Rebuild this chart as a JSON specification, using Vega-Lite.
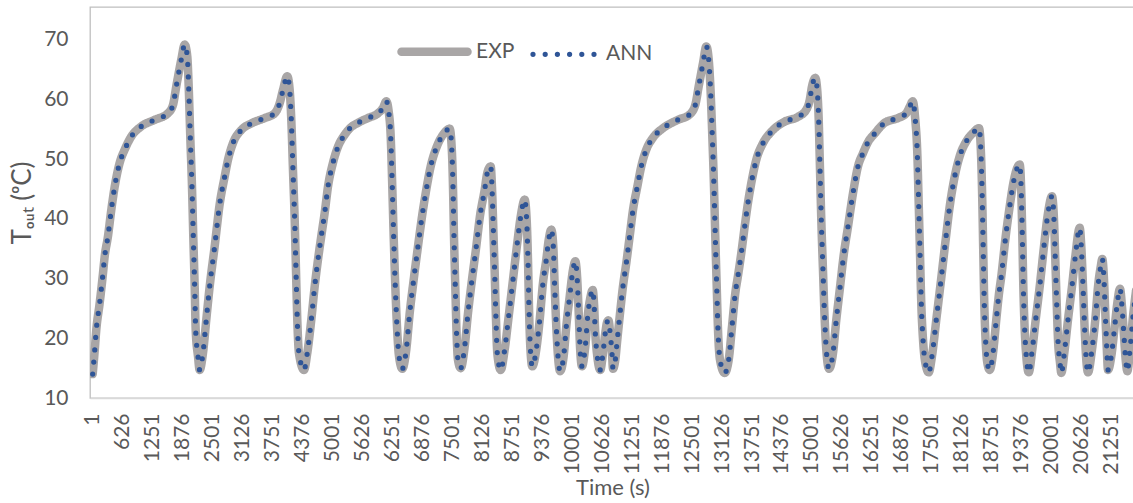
{
"$schema": "https://vega.github.io/schema/vega-lite/v6.json",
"width": 1045, "height": 391,
"autosize": "none",
"padding": {"left": 90, "top": 7, "right": 0, "bottom": 105},
"background": "white",
"config": {"view": {"stroke": "#BFBFBF", "strokeWidth": 1.3}, "font": "Lato"},
"datasets": {"pts": [
{"t":1,"EXP":14.0,"ANN":14.0},{"t":39,"EXP":17.5,"ANN":17.5},{"t":76,"EXP":21.4,"ANN":21.4},{"t":147,"EXP":25.9,"ANN":25.9},{"t":216,"EXP":30.9,"ANN":30.9},{"t":251,"EXP":33.7,"ANN":33.7},{"t":320,"EXP":37.1,"ANN":37.1},{"t":389,"EXP":41.5,"ANN":41.5},{"t":460,"EXP":45.4,"ANN":45.4},{"t":564,"EXP":49.4,"ANN":49.4},{"t":668,"EXP":51.6,"ANN":51.6},{"t":806,"EXP":53.8,"ANN":53.8},{"t":1015,"EXP":55.5,"ANN":55.5},{"t":1294,"EXP":56.6,"ANN":56.6},{"t":1571,"EXP":57.7,"ANN":57.7},{"t":1676,"EXP":59.1,"ANN":59.1},{"t":1744,"EXP":62.2,"ANN":62.2},{"t":1849,"EXP":66.7,"ANN":66.7},{"t":1920,"EXP":69.2,"ANN":69.2},{"t":1974,"EXP":67.2,"ANN":67.2},{"t":2003,"EXP":62.2,"ANN":62.2},{"t":2036,"EXP":53.8,"ANN":53.8},{"t":2072,"EXP":45.4,"ANN":45.4},{"t":2099,"EXP":37.1,"ANN":37.1},{"t":2128,"EXP":28.7,"ANN":28.7},{"t":2149,"EXP":21.4,"ANN":21.4},{"t":2197,"EXP":17.0,"ANN":17.0},{"t":2232,"EXP":14.7,"ANN":14.7},{"t":2301,"EXP":17.5,"ANN":17.5},{"t":2370,"EXP":23.1,"ANN":23.1},{"t":2441,"EXP":28.7,"ANN":28.7},{"t":2545,"EXP":35.4,"ANN":35.4},{"t":2650,"EXP":42.5,"ANN":42.5},{"t":2754,"EXP":47.1,"ANN":47.1},{"t":2823,"EXP":49.9,"ANN":49.9},{"t":2927,"EXP":52.7,"ANN":52.7},{"t":3100,"EXP":54.9,"ANN":54.9},{"t":3309,"EXP":56.0,"ANN":56.0},{"t":3588,"EXP":56.9,"ANN":56.9},{"t":3797,"EXP":57.7,"ANN":57.7},{"t":3901,"EXP":59.4,"ANN":59.4},{"t":3970,"EXP":61.6,"ANN":61.6},{"t":4059,"EXP":63.9,"ANN":63.9},{"t":4109,"EXP":61.6,"ANN":61.6},{"t":4143,"EXP":56.6,"ANN":56.6},{"t":4178,"EXP":48.2,"ANN":48.2},{"t":4214,"EXP":39.8,"ANN":39.8},{"t":4241,"EXP":31.4,"ANN":31.4},{"t":4268,"EXP":23.1,"ANN":23.1},{"t":4303,"EXP":17.5,"ANN":17.5},{"t":4408,"EXP":14.7,"ANN":14.7},{"t":4476,"EXP":17.5,"ANN":17.5},{"t":4560,"EXP":23.1,"ANN":23.1},{"t":4631,"EXP":28.7,"ANN":28.7},{"t":4700,"EXP":33.2,"ANN":33.2},{"t":4768,"EXP":37.1,"ANN":37.1},{"t":4839,"EXP":41.0,"ANN":41.0},{"t":4908,"EXP":45.4,"ANN":45.4},{"t":5012,"EXP":49.4,"ANN":49.4},{"t":5117,"EXP":52.1,"ANN":52.1},{"t":5256,"EXP":54.1,"ANN":54.1},{"t":5367,"EXP":55.2,"ANN":55.2},{"t":5534,"EXP":56.1,"ANN":56.1},{"t":5742,"EXP":56.9,"ANN":56.9},{"t":5951,"EXP":57.7,"ANN":57.7},{"t":6055,"EXP":58.6,"ANN":58.6},{"t":6124,"EXP":59.7,"ANN":59.7},{"t":6174,"EXP":58.0,"ANN":58.0},{"t":6216,"EXP":53.8,"ANN":53.8},{"t":6249,"EXP":45.4,"ANN":45.4},{"t":6278,"EXP":37.1,"ANN":37.1},{"t":6312,"EXP":28.7,"ANN":28.7},{"t":6347,"EXP":22.0,"ANN":22.0},{"t":6389,"EXP":17.0,"ANN":17.0},{"t":6458,"EXP":14.9,"ANN":14.9},{"t":6541,"EXP":18.1,"ANN":18.1},{"t":6612,"EXP":24.2,"ANN":24.2},{"t":6695,"EXP":29.8,"ANN":29.8},{"t":6785,"EXP":35.4,"ANN":35.4},{"t":6869,"EXP":40.4,"ANN":40.4},{"t":6958,"EXP":44.9,"ANN":44.9},{"t":7050,"EXP":48.8,"ANN":48.8},{"t":7167,"EXP":51.9,"ANN":51.9},{"t":7306,"EXP":54.1,"ANN":54.1},{"t":7446,"EXP":55.1,"ANN":55.1},{"t":7494,"EXP":51.0,"ANN":51.0},{"t":7515,"EXP":45.4,"ANN":45.4},{"t":7536,"EXP":37.1,"ANN":37.1},{"t":7563,"EXP":28.7,"ANN":28.7},{"t":7592,"EXP":20.3,"ANN":20.3},{"t":7619,"EXP":16.4,"ANN":16.4},{"t":7676,"EXP":15.0,"ANN":15.0},{"t":7759,"EXP":18.6,"ANN":18.6},{"t":7828,"EXP":24.2,"ANN":24.2},{"t":7911,"EXP":29.8,"ANN":29.8},{"t":8001,"EXP":35.4,"ANN":35.4},{"t":8078,"EXP":40.5,"ANN":40.5},{"t":8176,"EXP":44.9,"ANN":44.9},{"t":8230,"EXP":47.7,"ANN":47.7},{"t":8301,"EXP":48.8,"ANN":48.8},{"t":8328,"EXP":45.4,"ANN":45.4},{"t":8355,"EXP":38.7,"ANN":38.7},{"t":8385,"EXP":30.9,"ANN":30.9},{"t":8412,"EXP":23.1,"ANN":23.1},{"t":8439,"EXP":17.5,"ANN":17.5},{"t":8510,"EXP":14.7,"ANN":14.7},{"t":8593,"EXP":18.1,"ANN":18.1},{"t":8677,"EXP":23.7,"ANN":23.7},{"t":8766,"EXP":29.8,"ANN":29.8},{"t":8856,"EXP":36.0,"ANN":36.0},{"t":8927,"EXP":40.4,"ANN":40.4},{"t":9010,"EXP":43.2,"ANN":43.2},{"t":9052,"EXP":39.8,"ANN":39.8},{"t":9079,"EXP":33.2,"ANN":33.2},{"t":9100,"EXP":25.3,"ANN":25.3},{"t":9127,"EXP":18.6,"ANN":18.6},{"t":9169,"EXP":15.3,"ANN":15.3},{"t":9252,"EXP":18.1,"ANN":18.1},{"t":9323,"EXP":23.1,"ANN":23.1},{"t":9392,"EXP":29.3,"ANN":29.3},{"t":9461,"EXP":33.2,"ANN":33.2},{"t":9511,"EXP":36.5,"ANN":36.5},{"t":9565,"EXP":38.2,"ANN":38.2},{"t":9607,"EXP":35.4,"ANN":35.4},{"t":9636,"EXP":28.7,"ANN":28.7},{"t":9669,"EXP":22.0,"ANN":22.0},{"t":9705,"EXP":17.0,"ANN":17.0},{"t":9747,"EXP":14.5,"ANN":14.5},{"t":9830,"EXP":17.5,"ANN":17.5},{"t":9878,"EXP":22.0,"ANN":22.0},{"t":9949,"EXP":27.0,"ANN":27.0},{"t":10018,"EXP":31.5,"ANN":31.5},{"t":10066,"EXP":32.9,"ANN":32.9},{"t":10107,"EXP":29.8,"ANN":29.8},{"t":10137,"EXP":24.2,"ANN":24.2},{"t":10164,"EXP":18.6,"ANN":18.6},{"t":10205,"EXP":15.3,"ANN":15.3},{"t":10274,"EXP":18.6,"ANN":18.6},{"t":10331,"EXP":24.2,"ANN":24.2},{"t":10372,"EXP":26.5,"ANN":26.5},{"t":10429,"EXP":28.1,"ANN":28.1},{"t":10456,"EXP":25.9,"ANN":25.9},{"t":10483,"EXP":20.9,"ANN":20.9},{"t":10524,"EXP":17.0,"ANN":17.0},{"t":10587,"EXP":14.7,"ANN":14.7},{"t":10643,"EXP":17.5,"ANN":17.5},{"t":10691,"EXP":20.9,"ANN":20.9},{"t":10733,"EXP":22.8,"ANN":22.8},{"t":10758,"EXP":23.0,"ANN":23.0},{"t":10796,"EXP":20.6,"ANN":20.6},{"t":10831,"EXP":17.5,"ANN":17.5},{"t":10852,"EXP":14.9,"ANN":14.9},{"t":10900,"EXP":16.4,"ANN":16.4},{"t":10942,"EXP":19.8,"ANN":19.8},{"t":10992,"EXP":23.7,"ANN":23.7},{"t":11060,"EXP":28.7,"ANN":28.7},{"t":11129,"EXP":32.6,"ANN":32.6},{"t":11200,"EXP":37.1,"ANN":37.1},{"t":11269,"EXP":41.5,"ANN":41.5},{"t":11359,"EXP":45.4,"ANN":45.4},{"t":11442,"EXP":48.8,"ANN":48.8},{"t":11546,"EXP":51.6,"ANN":51.6},{"t":11686,"EXP":53.6,"ANN":53.6},{"t":11895,"EXP":55.2,"ANN":55.2},{"t":12207,"EXP":56.6,"ANN":56.6},{"t":12451,"EXP":57.5,"ANN":57.5},{"t":12568,"EXP":59.1,"ANN":59.1},{"t":12639,"EXP":62.2,"ANN":62.2},{"t":12729,"EXP":66.1,"ANN":66.1},{"t":12798,"EXP":68.9,"ANN":68.9},{"t":12848,"EXP":66.7,"ANN":66.7},{"t":12889,"EXP":61.1,"ANN":61.1},{"t":12923,"EXP":53.8,"ANN":53.8},{"t":12958,"EXP":45.4,"ANN":45.4},{"t":12985,"EXP":37.1,"ANN":37.1},{"t":13015,"EXP":28.7,"ANN":28.7},{"t":13042,"EXP":21.4,"ANN":21.4},{"t":13083,"EXP":16.4,"ANN":16.4},{"t":13181,"EXP":14.2,"ANN":14.2},{"t":13265,"EXP":16.4,"ANN":16.4},{"t":13334,"EXP":22.0,"ANN":22.0},{"t":13403,"EXP":27.6,"ANN":27.6},{"t":13459,"EXP":30.5,"ANN":30.5},{"t":13528,"EXP":34.3,"ANN":34.3},{"t":13598,"EXP":38.7,"ANN":38.7},{"t":13667,"EXP":42.7,"ANN":42.7},{"t":13736,"EXP":46.0,"ANN":46.0},{"t":13840,"EXP":49.9,"ANN":49.9},{"t":13980,"EXP":52.7,"ANN":52.7},{"t":14153,"EXP":54.6,"ANN":54.6},{"t":14433,"EXP":56.3,"ANN":56.3},{"t":14710,"EXP":57.1,"ANN":57.1},{"t":14883,"EXP":58.3,"ANN":58.3},{"t":14954,"EXP":59.9,"ANN":59.9},{"t":15002,"EXP":62.2,"ANN":62.2},{"t":15071,"EXP":63.6,"ANN":63.6},{"t":15113,"EXP":61.4,"ANN":61.4},{"t":15142,"EXP":56.6,"ANN":56.6},{"t":15169,"EXP":48.2,"ANN":48.2},{"t":15196,"EXP":39.8,"ANN":39.8},{"t":15231,"EXP":31.4,"ANN":31.4},{"t":15267,"EXP":23.1,"ANN":23.1},{"t":15300,"EXP":18.1,"ANN":18.1},{"t":15357,"EXP":14.9,"ANN":14.9},{"t":15440,"EXP":17.5,"ANN":17.5},{"t":15509,"EXP":23.1,"ANN":23.1},{"t":15580,"EXP":28.1,"ANN":28.1},{"t":15669,"EXP":34.3,"ANN":34.3},{"t":15753,"EXP":38.7,"ANN":38.7},{"t":15857,"EXP":44.3,"ANN":44.3},{"t":15961,"EXP":48.8,"ANN":48.8},{"t":16065,"EXP":51.0,"ANN":51.0},{"t":16180,"EXP":53.0,"ANN":53.0},{"t":16310,"EXP":54.3,"ANN":54.3},{"t":16518,"EXP":56.1,"ANN":56.1},{"t":16795,"EXP":56.9,"ANN":56.9},{"t":16968,"EXP":57.7,"ANN":57.7},{"t":17040,"EXP":58.8,"ANN":58.8},{"t":17102,"EXP":59.7,"ANN":59.7},{"t":17156,"EXP":56.6,"ANN":56.6},{"t":17198,"EXP":51.0,"ANN":51.0},{"t":17227,"EXP":42.7,"ANN":42.7},{"t":17254,"EXP":34.3,"ANN":34.3},{"t":17281,"EXP":25.9,"ANN":25.9},{"t":17317,"EXP":19.8,"ANN":19.8},{"t":17365,"EXP":15.9,"ANN":15.9},{"t":17436,"EXP":14.3,"ANN":14.3},{"t":17504,"EXP":17.0,"ANN":17.0},{"t":17594,"EXP":23.1,"ANN":23.1},{"t":17686,"EXP":29.3,"ANN":29.3},{"t":17782,"EXP":36.0,"ANN":36.0},{"t":17874,"EXP":42.1,"ANN":42.1},{"t":17978,"EXP":47.1,"ANN":47.1},{"t":18082,"EXP":50.5,"ANN":50.5},{"t":18220,"EXP":53.0,"ANN":53.0},{"t":18359,"EXP":54.4,"ANN":54.4},{"t":18485,"EXP":55.2,"ANN":55.2},{"t":18533,"EXP":49.4,"ANN":49.4},{"t":18554,"EXP":42.7,"ANN":42.7},{"t":18574,"EXP":34.3,"ANN":34.3},{"t":18595,"EXP":25.9,"ANN":25.9},{"t":18625,"EXP":19.2,"ANN":19.2},{"t":18658,"EXP":15.9,"ANN":15.9},{"t":18708,"EXP":14.7,"ANN":14.7},{"t":18777,"EXP":17.5,"ANN":17.5},{"t":18845,"EXP":23.1,"ANN":23.1},{"t":18902,"EXP":27.5,"ANN":27.5},{"t":18950,"EXP":30.4,"ANN":30.4},{"t":19033,"EXP":36.5,"ANN":36.5},{"t":19125,"EXP":42.1,"ANN":42.1},{"t":19215,"EXP":46.6,"ANN":46.6},{"t":19334,"EXP":49.1,"ANN":49.1},{"t":19367,"EXP":44.3,"ANN":44.3},{"t":19388,"EXP":37.1,"ANN":37.1},{"t":19409,"EXP":28.7,"ANN":28.7},{"t":19438,"EXP":21.4,"ANN":21.4},{"t":19471,"EXP":17.0,"ANN":17.0},{"t":19521,"EXP":14.3,"ANN":14.3},{"t":19596,"EXP":18.1,"ANN":18.1},{"t":19667,"EXP":23.1,"ANN":23.1},{"t":19751,"EXP":28.7,"ANN":28.7},{"t":19840,"EXP":35.4,"ANN":35.4},{"t":19924,"EXP":41.0,"ANN":41.0},{"t":20007,"EXP":43.8,"ANN":43.8},{"t":20049,"EXP":39.8,"ANN":39.8},{"t":20076,"EXP":33.2,"ANN":33.2},{"t":20105,"EXP":25.9,"ANN":25.9},{"t":20132,"EXP":19.8,"ANN":19.8},{"t":20174,"EXP":15.9,"ANN":15.9},{"t":20201,"EXP":14.2,"ANN":14.2},{"t":20272,"EXP":18.1,"ANN":18.1},{"t":20341,"EXP":23.1,"ANN":23.1},{"t":20424,"EXP":28.7,"ANN":28.7},{"t":20493,"EXP":33.7,"ANN":33.7},{"t":20585,"EXP":38.5,"ANN":38.5},{"t":20618,"EXP":35.4,"ANN":35.4},{"t":20654,"EXP":28.7,"ANN":28.7},{"t":20689,"EXP":21.4,"ANN":21.4},{"t":20722,"EXP":16.4,"ANN":16.4},{"t":20758,"EXP":14.3,"ANN":14.3},{"t":20841,"EXP":18.1,"ANN":18.1},{"t":20910,"EXP":23.1,"ANN":23.1},{"t":20967,"EXP":28.7,"ANN":28.7},{"t":21023,"EXP":32.0,"ANN":32.0},{"t":21056,"EXP":33.3,"ANN":33.3},{"t":21092,"EXP":29.8,"ANN":29.8},{"t":21119,"EXP":24.2,"ANN":24.2},{"t":21148,"EXP":18.6,"ANN":18.6},{"t":21175,"EXP":14.7,"ANN":14.7},{"t":21244,"EXP":17.0,"ANN":17.0},{"t":21315,"EXP":22.0,"ANN":22.0},{"t":21369,"EXP":25.9,"ANN":25.9},{"t":21425,"EXP":28.3,"ANN":28.3},{"t":21467,"EXP":25.3,"ANN":25.3},{"t":21509,"EXP":20.3,"ANN":20.3},{"t":21544,"EXP":16.4,"ANN":16.4},{"t":21578,"EXP":14.5,"ANN":14.5},{"t":21634,"EXP":18.1,"ANN":18.1},{"t":21697,"EXP":23.7,"ANN":23.7},{"t":21760,"EXP":28.0,"ANN":28.0}
]},
"data": {"name": "pts"},
"transform": [
  {"fold": ["EXP", "ANN"], "as": ["series", "T"]}
],
"encoding": {
  "x": {"field": "t", "type": "quantitative",
        "scale": {"domain": [-55, 21738], "nice": false, "zero": false},
        "axis": {"values": [1,626,1251,1876,2501,3126,3751,4376,5001,5626,6251,6876,7501,8126,8751,9376,10001,10626,11251,11876,12501,13126,13751,14376,15001,15626,16251,16876,17501,18126,18751,19376,20001,20626,21251],
                 "format": "d", "labelAngle": -90, "labelFont": "Lato", "labelFontSize": 21, "labelColor": "#595959",
                 "ticks": false, "grid": false, "domainColor": "#D9D9D9", "domainWidth": 1.3,
                 "labelPadding": 15, "labelOverlap": false, "labelFlush": false,
                 "title": "Time (s)", "titleFont": "Lato", "titleFontSize": 22, "titleColor": "#595959",
                 "titleFontWeight": "normal", "titlePadding": 4}},
  "y": {"field": "T", "type": "quantitative",
        "scale": {"domain": [10, 75.5], "nice": false, "zero": false},
        "axis": {"values": [10,20,30,40,50,60,70], "labelFont": "Lato", "labelFontSize": 21, "labelColor": "#595959",
                 "ticks": false, "grid": false, "domain": false, "labelPadding": 22,
                 "title": "Tₒᵤₜ (ᵒC)", "titleFont": "Lato", "titleFontSize": 26, "titleColor": "#595959",
                 "titleFontWeight": "normal", "titlePadding": 8}},
  "color": {"field": "series", "type": "nominal",
            "scale": {"domain": ["EXP", "ANN"], "range": ["#A9A6A6", "#2F5597"]},
            "legend": {"title": null, "orient": "none", "legendX": 307, "legendY": 7, "direction": "horizontal",
                       "symbolType": "stroke", "symbolSize": 4356, "labelFont": "Lato", "labelFontSize": 21,
                       "labelColor": "#595959", "labelOffset": 4, "columnPadding": 7,
                       "encode": {"symbols": {"update": {"strokeCap": {"value": "round"}}}}}},
  "strokeDash": {"field": "series", "type": "nominal",
                 "scale": {"domain": ["EXP", "ANN"], "range": [[1, 0], [0, 12.2]]}},
  "strokeWidth": {"field": "series", "type": "nominal",
                  "scale": {"domain": ["EXP", "ANN"], "range": [8.5, 5.2]}}
},
"layer": [
  {"transform": [{"filter": "datum.series === 'EXP'"}],
   "mark": {"type": "line", "interpolate": "monotone", "strokeCap": "round", "strokeJoin": "round", "clip": true}},
  {"transform": [{"filter": "datum.series === 'ANN'"}],
   "mark": {"type": "line", "interpolate": "monotone", "strokeCap": "round", "strokeJoin": "round", "clip": true}}
]
}
